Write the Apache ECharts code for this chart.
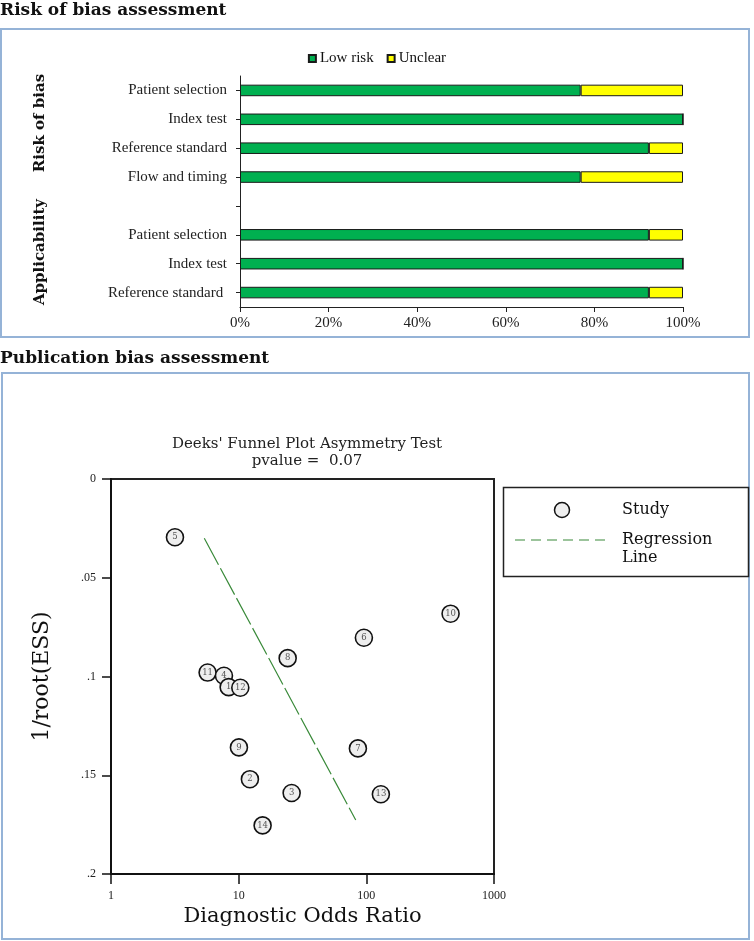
<!DOCTYPE html>
<html><head><meta charset="utf-8">
<script src="https://cdn.jsdelivr.net/npm/echarts@6/dist/echarts.min.js"></script>
<style>html,body{margin:0;padding:0;background:#fff}#c{width:754px;height:941px}</style>
</head><body><div id="c"></div>
<script>
// ---- Risk of bias (QUADAS-2) ----
const domains = ['Patient selection', 'Index test', 'Reference standard', 'Flow and timing', '', 'Patient selection', 'Index test', 'Reference standard '];
const lowRisk = [76.9, 100, 92.3, 76.9, '-', 92.3, 100, 92.3];
const unclear = [23.1, 0, 7.7, 23.1, '-', 7.7, 0, 7.7];
const pctTicks = [0, 20, 40, 60, 80, 100];

// ---- Deeks' funnel plot ----
const studyIds = [5, 11, 4, 1, 9, 12, 2, 14, 8, 3, 7, 6, 13, 10];
const dor = [3.17, 5.71, 7.67, 8.35, 10.05, 10.3, 12.25, 15.4, 24.2, 26.0, 85.9, 95.7, 130, 457];
const invRootEss = [0.0295, 0.098, 0.0996, 0.1054, 0.1359, 0.1057, 0.152, 0.1754, 0.0907, 0.159, 0.1364, 0.0804, 0.1596, 0.0682];
const regLineDor = [5.38, 82.6];
const regLineY = [0.030, 0.1727];
const yTickLabels = ['0', '.05', '.1', '.15', '.2'];
const pvalue = '0.07';

const serif = 'Liberation Serif';
const slab = 'DejaVu Serif';
const frame = '#95b3d7';
const green = '#3a8a3a';

const chart = echarts.init(document.getElementById('c'), null, {renderer: 'canvas'});
chart.setOption({
  animation: false,
  backgroundColor: '#fff',
  title: {
    text: "Deeks' Funnel Plot Asymmetry Test\npvalue =  " + pvalue,
    left: 302, top: 431, textAlign: 'center',
    textStyle: {fontFamily: slab, fontSize: 15, fontWeight: 'normal', color: '#222', lineHeight: 17}
  },
  legend: {
    data: ['Low risk', 'Unclear'],
    left: 'center', top: 46, icon: 'rect', itemWidth: 7, itemHeight: 7, itemGap: 13,
    textStyle: {fontFamily: serif, fontSize: 15, color: '#111', padding: [0, 0, 0, -1]}
  },
  grid: [
    {left: 240, top: 76, width: 443, height: 231},
    {left: 111, top: 479, width: 383, height: 395, show: true, borderColor: '#222', borderWidth: 2, backgroundColor: 'transparent'}
  ],
  xAxis: [
    {gridIndex: 0, type: 'value', min: 0, max: 100, interval: 20,
     axisLine: {show: true, lineStyle: {color: '#222', width: 1}},
     axisTick: {show: true, length: 5, lineStyle: {color: '#222'}},
     splitLine: {show: false},
     axisLabel: {formatter: '{value}%', fontFamily: serif, fontSize: 15, color: '#222', margin: 9}},
    {gridIndex: 1, type: 'log', logBase: 10, min: 1, max: 1000,
     axisLine: {show: true, onZero: false, lineStyle: {color: '#111', width: 2}},
     axisTick: {show: true, length: 10, lineStyle: {color: '#111', width: 1.5}},
     minorTick: {show: false}, splitLine: {show: false},
     axisLabel: {fontFamily: serif, fontSize: 12, color: '#222', margin: 16,
       formatter: (v) => String(Math.round(v))},
     name: 'Diagnostic Odds Ratio', nameLocation: 'middle', nameGap: 32,
     nameTextStyle: {fontFamily: slab, fontSize: 21, color: '#111'}}
  ],
  yAxis: [
    {gridIndex: 0, type: 'category', data: domains, inverse: true,
     axisLine: {show: true, lineStyle: {color: '#222', width: 1}},
     axisTick: {show: true, alignWithLabel: true, length: 4, lineStyle: {color: '#222'}},
     axisLabel: {fontFamily: serif, fontSize: 15, color: '#222', margin: 13, interval: 0}},
    {gridIndex: 1, type: 'value', inverse: true, min: 0, max: 0.2, interval: 0.05,
     axisLine: {show: true, onZero: false, lineStyle: {color: '#111', width: 2}},
     axisTick: {show: true, length: 9, lineStyle: {color: '#111', width: 1.5}},
     splitLine: {show: false},
     axisLabel: {fontFamily: serif, fontSize: 12, color: '#222', margin: 15,
       formatter: (v) => yTickLabels[Math.round(v / 0.05)]},
     name: '1/root(ESS)', nameLocation: 'middle', nameGap: 58, nameRotate: 90,
     nameTextStyle: {fontFamily: slab, fontSize: 22, color: '#111'}}
  ],
  series: [
    {name: 'Low risk', type: 'bar', stack: 'rob', xAxisIndex: 0, yAxisIndex: 0, data: lowRisk, barWidth: '40%',
     itemStyle: {color: '#00b050', borderColor: '#1a1a1a', borderWidth: 1}},
    {name: 'Unclear', type: 'bar', stack: 'rob', xAxisIndex: 0, yAxisIndex: 0, data: unclear, barWidth: '40%',
     itemStyle: {color: '#ffff00', borderColor: '#1a1a1a', borderWidth: 1}},
    {name: 'Regression Line', type: 'line', xAxisIndex: 1, yAxisIndex: 1,
     data: regLineDor.map((d, i) => [d, regLineY[i]]), symbol: 'none',
     lineStyle: {color: green, width: 1.2, type: [30, 4]}, z: 2},
    {name: 'Study', type: 'scatter', xAxisIndex: 1, yAxisIndex: 1,
     data: dor.map((d, i) => [d, invRootEss[i], studyIds[i]]),
     symbol: 'circle', symbolSize: 17,
     itemStyle: {color: '#eeeeee', borderColor: '#111', borderWidth: 1.6, opacity: 1},
     label: {show: true, position: 'inside', formatter: (p) => String(p.value[2]), fontFamily: slab, fontSize: 8.5, color: '#555'},
     z: 3}
  ],
  graphic: [
    {type: 'text', left: 0, top: 2, style: {text: 'Risk of bias assessment', font: 'bold 17px "DejaVu Serif"', fill: '#111'}},
    {type: 'rect', shape: {x: 1, y: 29, width: 748, height: 308}, style: {fill: 'none', stroke: frame, lineWidth: 2}},
    {type: 'text', x: 40, y: 123, rotation: Math.PI / 2,
     style: {text: 'Risk of bias', font: 'bold 15px "DejaVu Serif"', fill: '#111', align: 'center', verticalAlign: 'middle'}},
    {type: 'text', x: 40, y: 252, rotation: Math.PI / 2,
     style: {text: 'Applicability', font: 'bold 15px "DejaVu Serif"', fill: '#111', align: 'center', verticalAlign: 'middle'}},
    {type: 'text', left: 0, top: 350, style: {text: 'Publication bias assessment', font: 'bold 17px "DejaVu Serif"', fill: '#111'}},
    {type: 'rect', shape: {x: 2, y: 373, width: 747, height: 566}, style: {fill: 'none', stroke: frame, lineWidth: 2}},
    {type: 'rect', shape: {x: 503.5, y: 487.5, width: 245, height: 89}, style: {fill: 'none', stroke: '#222', lineWidth: 1.5}},
    {type: 'circle', shape: {cx: 562, cy: 510, r: 7.5}, style: {fill: '#eeeeee', stroke: '#111', lineWidth: 1.5}},
    {type: 'text', x: 622, y: 510, style: {text: 'Study', font: '16px "DejaVu Serif"', fill: '#111', verticalAlign: 'middle'}},
    {type: 'line', shape: {x1: 515, y1: 540, x2: 608, y2: 540}, style: {stroke: green, lineWidth: 1.2, lineDash: [10, 6]}},
    {type: 'text', x: 622, y: 540, style: {text: 'Regression', font: '16px "DejaVu Serif"', fill: '#111', verticalAlign: 'middle'}},
    {type: 'text', x: 622, y: 558, style: {text: 'Line', font: '16px "DejaVu Serif"', fill: '#111', verticalAlign: 'middle'}}
  ]
});
</script>
</body></html>
